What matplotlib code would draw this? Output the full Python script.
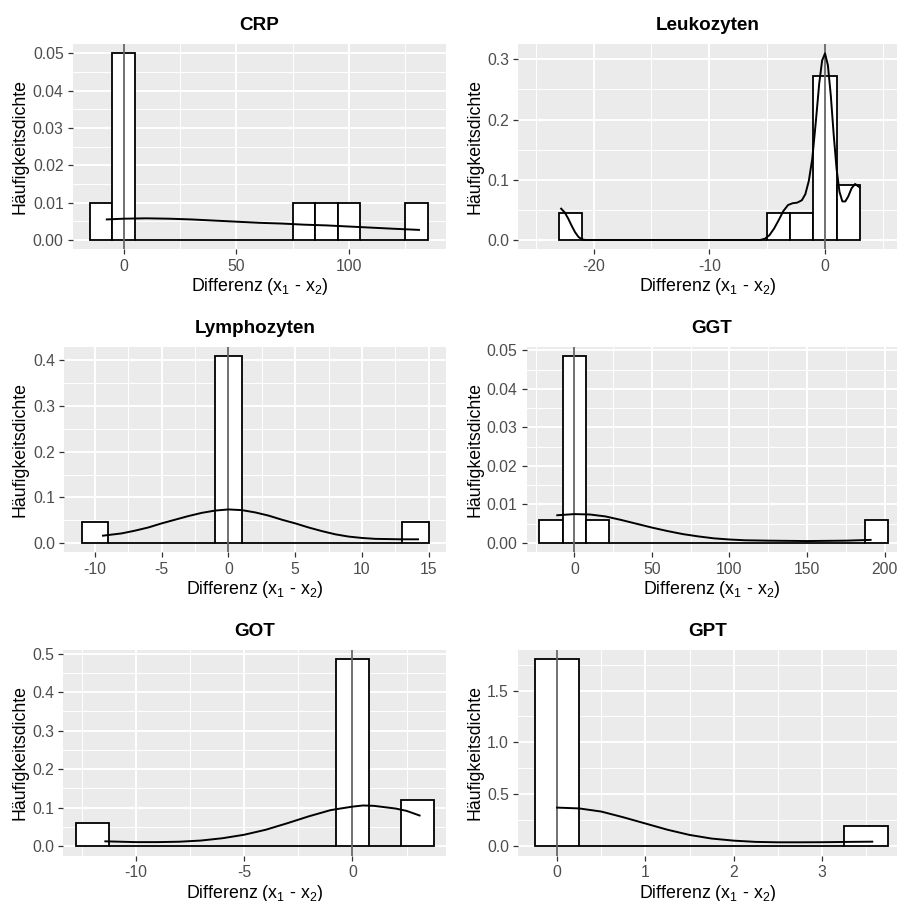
import matplotlib
matplotlib.use("Agg")
import matplotlib.pyplot as plt
import matplotlib.transforms as mtransforms
from matplotlib.ticker import FixedLocator, FormatStrFormatter
import numpy as np

plt.rcParams["font.family"] = ["Liberation Sans", "DejaVu Sans"]
plt.rcParams["axes.unicode_minus"] = False
plt.rcParams["mathtext.fontset"] = "custom"
plt.rcParams["mathtext.rm"] = "Liberation Sans"

# histogram bins: first edge, bin width, count per bin
crp_start, crp_width = -15, 10
crp_counts = [1, 5, 0, 0, 0, 0, 0, 0, 0, 1, 1, 1, 0, 0, 1]
crp_kde_x = [-7.5, 0, 10, 20, 30, 40, 50, 60, 70, 80, 90, 100, 110, 120, 131]
crp_kde_y = [0.0055, 0.0057, 0.0058, 0.0057, 0.0055, 0.0052, 0.0049, 0.0046,
             0.0044, 0.0041, 0.0039, 0.0036, 0.0033, 0.0030, 0.0027]

leu_start, leu_width = -23, 2
leu_counts = [1, 0, 0, 0, 0, 0, 0, 0, 0, 1, 1, 6, 2]
leu_kde_x = [-22.8, -22.5, -22.2, -21.9, -21.6, -21.3, -21.0, -20.7, -15, -10,
             -5.6, -5.2, -4.8, -4.4, -4.0, -3.6, -3.2, -2.8, -2.4, -2.0, -1.7,
             -1.4, -1.1, -0.8, -0.5, -0.25, 0.0, 0.25, 0.5, 0.75, 1.0, 1.25,
             1.5, 1.75, 2.0, 2.3, 2.6, 2.95]
leu_kde_y = [0.052, 0.046, 0.036, 0.024, 0.013, 0.005, 0.001, 0.0, 0.0, 0.0,
             0.0, 0.002, 0.008, 0.019, 0.033, 0.048, 0.058, 0.061, 0.062,
             0.066, 0.076, 0.098, 0.135, 0.195, 0.26, 0.298, 0.310, 0.29,
             0.24, 0.175, 0.118, 0.080, 0.064, 0.064, 0.072, 0.086, 0.093,
             0.088]

lym_start, lym_width = -11, 2
lym_counts = [1, 0, 0, 0, 0, 9, 0, 0, 0, 0, 0, 0, 1]
lym_kde_x = [-9.4, -8, -7, -6, -5, -4, -3, -2, -1, 0, 1, 2, 3, 4, 5, 6, 7, 8,
             9, 10, 11, 12, 13, 14.2]
lym_kde_y = [0.016, 0.021, 0.027, 0.034, 0.043, 0.051, 0.059, 0.066, 0.071,
             0.0735, 0.072, 0.067, 0.060, 0.051, 0.043, 0.034, 0.026, 0.019,
             0.014, 0.011, 0.009, 0.0085, 0.008, 0.008]

ggt_start, ggt_width = -22.5, 15
ggt_counts = [1, 8, 1, 0, 0, 0, 0, 0, 0, 0, 0, 0, 0, 0, 1]
ggt_kde_x = [-11, 0, 10, 20, 30, 40, 50, 60, 70, 80, 90, 100, 110, 125, 150,
             175, 191]
ggt_kde_y = [0.0072, 0.0075, 0.0074, 0.0069, 0.0060, 0.0050, 0.0040, 0.0031,
             0.0023, 0.0017, 0.0012, 0.0009, 0.0007, 0.0006, 0.0005, 0.0006,
             0.0008]

got_start, got_width = -12.75, 1.5
got_counts = [1, 0, 0, 0, 0, 0, 0, 0, 8, 0, 2]
got_kde_x = [-11.4, -10, -9, -8, -7, -6, -5, -4, -3, -2, -1, 0, 0.5, 1, 2,
             2.5, 3.1]
got_kde_y = [0.013, 0.011, 0.011, 0.012, 0.015, 0.021, 0.030, 0.043, 0.060,
             0.078, 0.094, 0.103, 0.106, 0.105, 0.098, 0.092, 0.080]

gpt_start, gpt_width = -0.25, 0.5
gpt_counts = [9, 0, 0, 0, 0, 0, 0, 1]
gpt_kde_x = [0, 0.25, 0.5, 0.75, 1.0, 1.25, 1.5, 1.75, 2.0, 2.25, 2.5, 2.75,
             3.0, 3.3, 3.57]
gpt_kde_y = [0.373, 0.365, 0.335, 0.28, 0.22, 0.16, 0.11, 0.075, 0.055, 0.043,
             0.039, 0.039, 0.040, 0.043, 0.045]

W, H = 897, 901
fig = plt.figure(figsize=(W / 100, H / 100), dpi=100)

# (title, start, width, counts, kde x, kde y, pixel box l/r/t/b, xlim,
#  x major, x minor, y major, y minor, y format)
panels = [
    ("CRP", crp_start, crp_width, crp_counts, crp_kde_x, crp_kde_y,
     (73, 446, 44, 249.3), (-22.5, 143.0), [0, 50, 100], [25, 75, 125],
     np.arange(0, 0.051, 0.01), np.arange(0.005, 0.051, 0.01), "%.2f"),
    ("Leukozyten", leu_start, leu_width, leu_counts, leu_kde_x, leu_kde_y,
     (518.3, 897, 44, 249.3), (-26.5, 6.22), [-20, -10, 0], [-25, -15, -5, 5],
     [0, 0.1, 0.2, 0.3], [0.05, 0.15, 0.25], "%.1f"),
    ("Lymphozyten", lym_start, lym_width, lym_counts, lym_kde_x, lym_kde_y,
     (64.3, 446, 347, 552.3), (-12.3, 16.3), [-10, -5, 0, 5, 10, 15],
     [-7.5, -2.5, 2.5, 7.5, 12.5], [0, 0.1, 0.2, 0.3, 0.4],
     [0.05, 0.15, 0.25, 0.35], "%.1f"),
    ("GGT", ggt_start, ggt_width, ggt_counts, ggt_kde_x, ggt_kde_y,
     (526.7, 897, 347, 552.3), (-30.7, 208.0), [0, 50, 100, 150, 200],
     [-25, 25, 75, 125, 175], np.arange(0, 0.051, 0.01),
     np.arange(0.005, 0.051, 0.01), "%.2f"),
    ("GOT", got_start, got_width, got_counts, got_kde_x, got_kde_y,
     (63.3, 446, 650, 855.7), (-13.34, 4.32), [-10, -5, 0],
     [-12.5, -7.5, -2.5, 2.5], [0, 0.1, 0.2, 0.3, 0.4, 0.5],
     [0.05, 0.15, 0.25, 0.35, 0.45], "%.1f"),
    ("GPT", gpt_start, gpt_width, gpt_counts, gpt_kde_x, gpt_kde_y,
     (518.3, 897, 650, 855.7), (-0.439, 3.85), [0, 1, 2, 3],
     [0.5, 1.5, 2.5, 3.5], [0, 0.5, 1.0, 1.5], [0.25, 0.75, 1.25, 1.75],
     "%.1f"),
]

for (title, start, width, counts, kx, ky, box, xlim,
     xmaj, xmin, ymaj, ymin, yfmt) in panels:
    left, right, top, bottom = box
    ax = fig.add_axes([left / W, 1 - bottom / H, (right - left) / W,
                       (bottom - top) / H])
    ax.set_facecolor("#EBEBEB")
    for s in ax.spines.values():
        s.set_visible(False)

    counts = np.array(counts, dtype=float)
    edges = start + width * np.arange(len(counts))
    dens = counts / (counts.sum() * width)
    ax.bar(edges, dens, width=width, align="edge", facecolor="white",
           edgecolor="black", linewidth=1.3, zorder=2)
    ax.axvline(0, color="#666666", linewidth=1.3, zorder=3)
    ax.plot(kx, ky, color="black", linewidth=1.4, zorder=4,
            solid_joinstyle="round")

    ytop = max(dens.max(), max(ky))
    ax.set_xlim(*xlim)
    ax.set_ylim(-0.05 * ytop, 1.05 * ytop)

    ax.xaxis.set_major_locator(FixedLocator(xmaj))
    ax.xaxis.set_minor_locator(FixedLocator(xmin))
    ax.yaxis.set_major_locator(FixedLocator(ymaj))
    ax.yaxis.set_minor_locator(FixedLocator(ymin))
    ax.xaxis.set_major_formatter(FormatStrFormatter("%g"))
    ax.yaxis.set_major_formatter(FormatStrFormatter(yfmt))
    ax.set_axisbelow(True)
    ax.grid(which="major", color="white", linewidth=1.4)
    ax.grid(which="minor", color="white", linewidth=0.7)
    ax.tick_params(which="major", length=3.3, width=0.9, color="#333333",
                   labelsize=11.3, labelcolor="#4D4D4D", pad=3.4)
    ax.tick_params(which="minor", length=0)

    ax.set_title(title, fontsize=13.6, fontweight="bold", pad=10)
    ax.set_xlabel(r"Differenz (x$\mathregular{_1}$ - x$\mathregular{_2}$)",
                  fontsize=12.8)
    ax.set_ylabel("Häufigkeitsdichte", fontsize=12.8)
    col_x = 20 if left < 300 else 475
    ax.yaxis.set_label_coords(
        col_x / W, 0.5,
        transform=mtransforms.blended_transform_factory(fig.transFigure,
                                                        ax.transAxes))
    ax.yaxis.label.set_verticalalignment("center")
    ax.xaxis.set_label_coords(
        0.5, 1 - (bottom + 27) / H,
        transform=mtransforms.blended_transform_factory(ax.transAxes,
                                                        fig.transFigure))

fig.savefig("out.png", dpi=100, facecolor="white")
